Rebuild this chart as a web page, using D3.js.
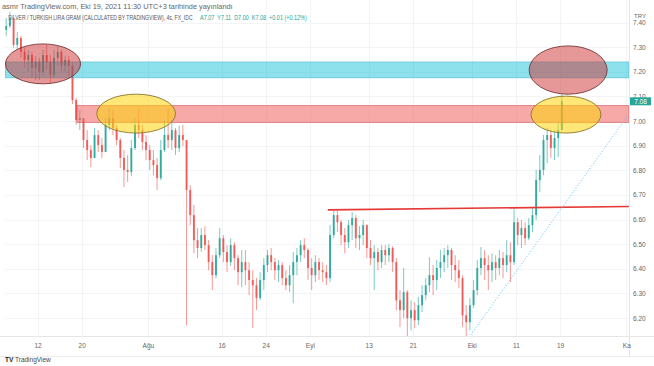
<!DOCTYPE html>
<html><head><meta charset="utf-8">
<script src="https://cdn.jsdelivr.net/npm/d3@7"></script>
<style>body{margin:0;background:#fff}svg{display:block;font-family:"Liberation Sans",Arial,sans-serif}</style>
</head><body>
<script>
// ---- data: 12h-candles (2 per trading day), Jul 5 – Oct 19 2021 ----
const firstOpen = 7.346;
const closes = [7.370,7.386,7.419,7.309,7.337,7.281,7.248,7.268,7.216,7.240,
7.199,7.268,7.240,7.187,7.256,7.281,7.224,7.248,7.224,7.085,
7.004,7.012,6.923,6.882,6.850,6.943,6.902,6.874,6.984,7.012,
6.972,6.923,6.850,6.801,6.793,6.890,6.984,6.963,6.915,6.882,
6.841,6.821,6.768,6.882,6.943,6.923,6.963,6.890,6.943,6.923,
6.720,6.618,6.516,6.484,6.537,6.496,6.427,6.374,6.455,6.524,
6.468,6.427,6.496,6.443,6.386,6.427,6.394,6.354,6.333,6.281,
6.354,6.415,6.455,6.427,6.394,6.415,6.362,6.333,6.374,6.427,
6.455,6.496,6.476,6.403,6.374,6.427,6.394,6.386,6.362,6.537,
6.618,6.589,6.537,6.508,6.577,6.606,6.524,6.537,6.577,6.484,
6.443,6.468,6.427,6.476,6.455,6.484,6.427,6.272,6.232,6.305,
6.199,6.232,6.191,6.252,6.293,6.333,6.374,6.354,6.403,6.427,
6.455,6.476,6.415,6.394,6.362,6.211,6.183,6.252,6.313,6.403,
6.443,6.415,6.394,6.427,6.403,6.443,6.415,6.455,6.427,6.589,
6.537,6.565,6.524,6.577,6.618,6.760,6.801,6.923,6.943,6.890,
6.931,6.963,7.080];
const highs = [7.402,7.419,7.443,7.411,7.362,7.346,7.297,7.289,7.281,7.264,
7.256,7.289,7.309,7.268,7.289,7.305,7.289,7.264,7.264,7.240,
7.094,7.045,6.996,6.963,6.902,6.972,6.963,6.931,7.012,7.053,
7.045,6.984,6.931,6.882,6.862,6.923,7.012,7.053,6.984,6.943,
6.902,6.882,6.850,6.923,7.004,7.053,7.004,6.972,6.980,6.984,
6.923,6.740,6.659,6.565,6.565,6.573,6.516,6.455,6.484,6.565,
6.537,6.496,6.524,6.508,6.455,6.476,6.476,6.427,6.394,6.362,
6.386,6.443,6.476,6.484,6.443,6.435,6.427,6.394,6.415,6.468,
6.484,6.516,6.524,6.484,6.443,6.455,6.443,6.427,6.415,6.577,
6.638,6.638,6.598,6.565,6.598,6.630,6.618,6.573,6.598,6.581,
6.516,6.496,6.484,6.496,6.496,6.500,6.492,6.443,6.313,6.403,
6.313,6.272,6.264,6.285,6.333,6.362,6.447,6.415,6.435,6.476,
6.484,6.496,6.484,6.455,6.435,6.374,6.252,6.281,6.354,6.435,
6.488,6.476,6.455,6.463,6.455,6.476,6.468,6.516,6.508,6.646,
6.606,6.598,6.589,6.606,6.646,6.801,6.862,6.943,6.972,6.963,
6.955,6.996,7.110];
const lows = [7.337,7.346,7.378,7.297,7.289,7.256,7.216,7.199,7.175,7.167,
7.167,7.183,7.207,7.155,7.175,7.224,7.195,7.199,7.183,7.069,
6.984,6.963,6.890,6.841,6.813,6.850,6.874,6.850,6.874,6.963,
6.943,6.902,6.809,6.732,6.752,6.776,6.882,6.931,6.882,6.841,
6.801,6.780,6.720,6.760,6.874,6.890,6.882,6.862,6.874,6.898,
6.171,6.577,6.463,6.443,6.468,6.476,6.394,6.313,6.362,6.443,
6.427,6.386,6.411,6.394,6.333,6.325,6.333,6.293,6.159,6.232,
6.272,6.313,6.386,6.394,6.354,6.346,6.333,6.313,6.305,6.260,
6.374,6.427,6.443,6.354,6.313,6.346,6.354,6.346,6.333,6.346,
6.524,6.549,6.496,6.463,6.484,6.516,6.484,6.476,6.496,6.443,
6.415,6.313,6.394,6.403,6.415,6.427,6.386,6.232,6.163,6.199,
6.122,6.150,6.159,6.171,6.224,6.272,6.305,6.293,6.313,6.362,
6.386,6.403,6.354,6.346,6.321,6.163,6.122,6.150,6.240,6.293,
6.374,6.354,6.313,6.346,6.354,6.374,6.362,6.386,6.346,6.415,
6.496,6.484,6.496,6.516,6.549,6.598,6.711,6.780,6.829,6.850,
6.841,6.854,6.963];

const yTicks = [6.2,6.3,6.4,6.5,6.6,6.7,6.8,6.9,7.0,7.1,7.2,7.3,7.4];
const xTickIndex = [10,22,40,60,72,84,100,112,128,140,152,170];
const xTickLabels = ["12","20","Ağu","16","24","Eyl","13","21","Eki","11","19","Ka"];
const lastPrice = 7.08;
const currency = "TRY";

// drawings
const blueBand = [7.175, 7.240];
const salmonBand = [6.994, 7.063];
const salmonBandStart = 20.2;
const redEllipses = [{cx:11, cy:7.232, rx:10.2, ry:0.081},{cx:153.7, cy:7.207, rx:10.6, ry:0.098}];
const yellowEllipses = [{cx:36.3, cy:7.030, rx:10.7, ry:0.079},{cx:153.1, cy:7.026, rx:9.5, ry:0.075}];
const neckline = [[88.4, 6.639],[170.2, 6.653]];
const trendline = [[126.8, 6.122],[170.0, 7.024]];

const headerLine1 = "asmr TradingView.com, Eki 19, 2021 11:30 UTC+3 tarihinde yayınlandı";
const headerLine2 = "SILVER / TURKISH LIRA GRAM (CALCULATED BY TRADINGVIEW), 4s, FX_IDC";
const headerOHLC = "A7.07  Y7.11  D7.00  K7.08  +0.01 (+0.12%)";

// ---- chart ----
const W = 654, H = 366;
const plotL = 5, plotR = 629, plotT = 0, plotB = 336;
const GREEN = "#26a69a", RED = "#ef5350";

const candles = closes.map((c,i)=>({i, o: i===0 ? firstOpen : closes[i-1], h: highs[i], l: lows[i], c}));

const x = d3.scaleLinear().domain([0,152]).range([2.54, 561.9]);
const y = d3.scaleLinear().domain([6.2, 7.4]).range([318, 22.5]);
const step = x(1) - x(0);

const svg = d3.select("body").append("svg").attr("width", W).attr("height", H);
svg.append("rect").attr("width", W).attr("height", H).attr("fill", "#fff");

svg.append("defs").append("clipPath").attr("id","plot")
  .append("rect").attr("x", plotL).attr("y", plotT).attr("width", plotR-plotL).attr("height", plotB-plotT);

// grid
const grid = svg.append("g").attr("stroke", "#f3f4f7").attr("stroke-width", 1);
grid.selectAll("line.h").data(yTicks).join("line")
  .attr("x1", plotL).attr("x2", plotR).attr("y1", d=>Math.round(y(d))+0.5).attr("y2", d=>Math.round(y(d))+0.5);
grid.selectAll("line.v").data(xTickIndex).join("line")
  .attr("y1", plotT).attr("y2", plotB).attr("x1", d=>Math.round(x(d-0.5))+0.5).attr("x2", d=>Math.round(x(d-0.5))+0.5);

// header text, horizontally condensed to the reference widths
function fitText(str, x0, y0, width, color, size) {
  const g = svg.append("g");
  const t = g.append("text").attr("font-size", size).attr("fill", color).attr("xml:space","preserve").text(str);
  const natural = t.node().getComputedTextLength();
  g.attr("transform", `translate(${x0},${y0}) scale(${width/natural},1)`);
}
fitText(headerLine1, 2, 9, 231, "#666", 6.5);
fitText(headerLine2, 8, 20, 185, "#555", 6.5);
fitText(headerOHLC, 200, 20, 107, GREEN, 6.5);

const plot = svg.append("g").attr("clip-path", "url(#plot)");

// candles
const cg = plot.append("g");
cg.selectAll("line").data(candles).join("line")
  .attr("x1", d=>x(d.i)).attr("x2", d=>x(d.i))
  .attr("y1", d=>y(d.h)).attr("y2", d=>y(d.l))
  .attr("stroke", d=> d.c>=d.o ? GREEN : RED).attr("stroke-opacity", 0.6).attr("stroke-width", 1);
cg.selectAll("rect").data(candles).join("rect")
  .attr("x", d=>x(d.i)-step*0.26).attr("width", step*0.52)
  .attr("y", d=>y(Math.max(d.o,d.c)))
  .attr("height", d=>Math.max(1, Math.abs(y(d.o)-y(d.c))))
  .attr("fill", d=> d.c>=d.o ? GREEN : RED).attr("fill-opacity", 0.9);

// bands
plot.append("rect").attr("x", plotL).attr("width", plotR-plotL)
  .attr("y", y(blueBand[1])).attr("height", y(blueBand[0])-y(blueBand[1]))
  .attr("fill", "rgb(0,188,212)").attr("fill-opacity", 0.45)
  .attr("stroke", "rgb(0,150,170)").attr("stroke-opacity", 0.4).attr("stroke-width", 0.8);
plot.append("rect").attr("x", x(salmonBandStart)).attr("width", plotR-x(salmonBandStart))
  .attr("y", y(salmonBand[1])).attr("height", y(salmonBand[0])-y(salmonBand[1]))
  .attr("fill", "rgb(239,83,80)").attr("fill-opacity", 0.5)
  .attr("stroke", "rgb(200,60,60)").attr("stroke-opacity", 0.6).attr("stroke-width", 0.8);

// ellipses
plot.selectAll("ellipse.red").data(redEllipses).join("ellipse").attr("class","red")
  .attr("cx", d=>x(d.cx)).attr("cy", d=>y(d.cy))
  .attr("rx", d=>d.rx*step).attr("ry", d=>y(7) - y(7 + d.ry))
  .attr("fill", "rgb(205,50,50)").attr("fill-opacity", 0.5)
  .attr("stroke", "#7a3434").attr("stroke-width", 0.9);
plot.selectAll("ellipse.yel").data(yellowEllipses).join("ellipse").attr("class","yel")
  .attr("cx", d=>x(d.cx)).attr("cy", d=>y(d.cy))
  .attr("rx", d=>d.rx*step).attr("ry", d=>y(7) - y(7 + d.ry))
  .attr("fill", "rgb(255,214,10)").attr("fill-opacity", 0.55)
  .attr("stroke", "#8a7628").attr("stroke-width", 0.9);

// lines
const line = d3.line().x(d=>x(d[0])).y(d=>y(d[1]));
plot.append("path").attr("d", line(neckline)).attr("stroke", "#e53935").attr("stroke-width", 1.6).attr("fill","none");
plot.append("path").attr("d", line(trendline)).attr("stroke", "#4fc3f7").attr("stroke-width", 1)
  .attr("stroke-dasharray", "1,2").attr("fill","none");

// frame lines
svg.append("line").attr("x1", plotR+0.5).attr("x2", plotR+0.5).attr("y1", 0).attr("y2", 356).attr("stroke", "#e6e6e6");
svg.append("line").attr("x1", 0).attr("x2", W).attr("y1", plotB+0.5).attr("y2", plotB+0.5).attr("stroke", "#e6e6e6");
svg.append("line").attr("x1", 0).attr("x2", W).attr("y1", 356.5).attr("y2", 356.5).attr("stroke", "#ececec");

// y axis
const yAxis = d3.axisRight(y).tickValues(yTicks).tickFormat(d3.format(".2f")).tickSize(0).tickPadding(0);
const ya = svg.append("g").attr("transform", `translate(633,0)`).call(yAxis);
ya.select(".domain").remove();
ya.selectAll("text").attr("font-size", 6.5).attr("fill", "#666").attr("font-family", "Liberation Sans, Arial, sans-serif");
svg.append("text").attr("x", 634).attr("y", 18).attr("font-size", 6).attr("fill", "#666").text(currency);

// last price tag
svg.append("rect").attr("x", 630).attr("y", y(lastPrice)-4).attr("width", 21).attr("height", 8).attr("fill", GREEN);
svg.append("text").attr("x", 640.5).attr("y", y(lastPrice)+2.3).attr("text-anchor","middle")
  .attr("font-size", 6.5).attr("fill", "#fff").text(d3.format(".2f")(lastPrice));

// x axis
const xAxis = d3.axisBottom(x).tickValues(xTickIndex.map(k=>k-0.5)).tickFormat((d,i)=>xTickLabels[i]).tickSize(0).tickPadding(0);
const xa = svg.append("g").attr("transform", `translate(0,343)`).call(xAxis);
xa.select(".domain").remove();
xa.selectAll("text").attr("font-size", 6.5).attr("fill", "#666").attr("font-family", "Liberation Sans, Arial, sans-serif");

// logo
svg.append("text").attr("x", 5).attr("y", 362).attr("font-size", 6.5).attr("font-weight", "bold").attr("fill", "#222").text("TV");
svg.append("text").attr("x", 15).attr("y", 362).attr("font-size", 6.5).attr("fill", "#444").text("TradingView");
</script>
</body></html>
